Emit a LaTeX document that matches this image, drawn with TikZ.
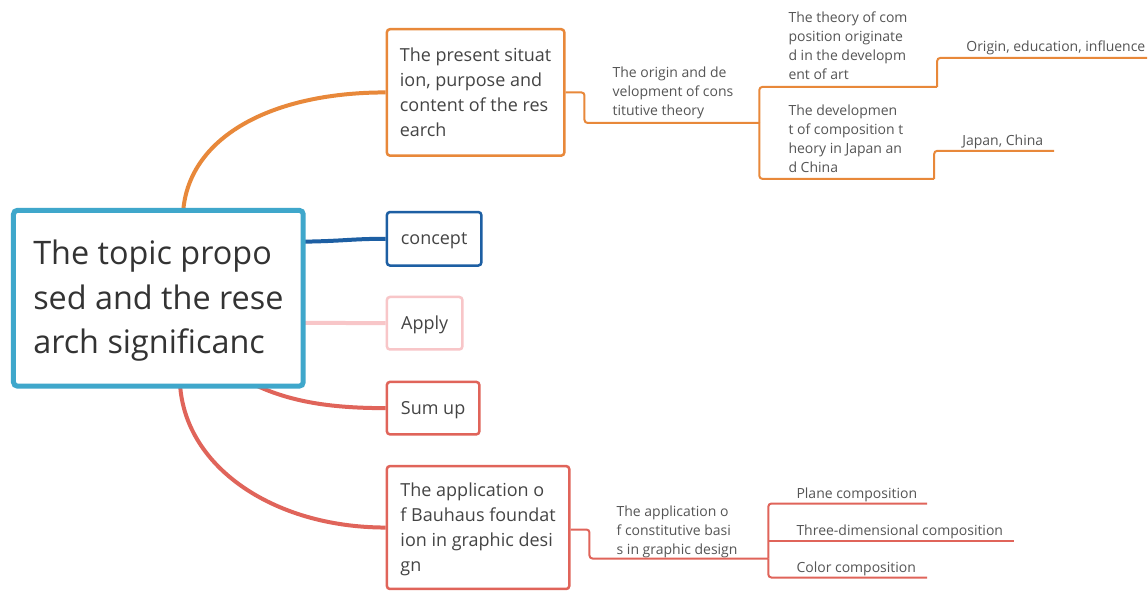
\documentclass[tikz,border=0pt]{standalone}
\usepackage{fontspec}
\setmainfont{Open Sans}
\definecolor{rootblue}{HTML}{3FA7CB}
\definecolor{orng}{HTML}{E8883A}
\definecolor{cblue}{HTML}{1D5FA3}
\definecolor{pink}{HTML}{F8C6C8}
\definecolor{redc}{HTML}{E0645A}
\definecolor{txtdark}{HTML}{333333}
\definecolor{txtmid}{HTML}{444444}
\definecolor{txtsub}{HTML}{555555}
\pgfdeclarelayer{paper}
\pgfdeclarelayer{bg}
\pgfsetlayers{paper,bg,main}
\tikzset{
  rootbox/.style={draw=rootblue, line width=5pt, fill=white, rounded corners=4pt, align=left, inner sep=0pt,
    text=txtdark, font=\fontsize{32.4}{44.5}\selectfont, minimum width=290pt, minimum height=176pt},
  topicbox/.style={draw=#1, line width=2.5pt, fill=white, rounded corners=3pt, align=left, inner sep=0pt,
    text=txtmid, font=\fontsize{18}{25}\selectfont},
  oneline/.style={text height=14pt, text depth=2pt},
  subtext/.style={anchor=west, inner sep=0pt, align=left, text=txtsub, font=\fontsize{14}{19}\selectfont},
  mainlink/.style={draw=#1, line width=4pt},
  sublink/.style={draw=#1, line width=2pt, rounded corners=3pt},
}
\begin{document}
\begin{tikzpicture}[x=1pt,y=-1pt]
\begin{pgfonlayer}{paper}
\useasboundingbox[fill=white] (0,0) rectangle (1148,591);
\end{pgfonlayer}

% ---------- boxes ----------
\node[rootbox] (root) at (158.5,298.5) {\rule{0pt}{29.6pt}The topic propo\\sed and the rese\\arch significanc};
\node[topicbox=orng, minimum width=177.5pt, minimum height=126.5pt] (b1) at (476,92.5)
  {The present situat\\ion, purpose and\\content of the res\\earch};
\node[topicbox=cblue, oneline, minimum width=94.5pt, minimum height=53.5pt] (conc) at (434.5,239) {concept};
\node[topicbox=pink, oneline, minimum width=75.5pt, minimum height=52.5pt] (appl) at (425,323.5) {Apply};
\node[topicbox=redc, oneline, minimum width=92.5pt, minimum height=52.5pt] (sum) at (433.5,408.5) {Sum up};
\node[topicbox=redc, minimum width=182.5pt, minimum height=123pt] (bau) at (478.5,528)
  {\rule{0pt}{17.7pt}The application o\\f Bauhaus foundat\\ion in graphic desi\\gn};

% ---------- main connectors (behind the boxes) ----------
\coordinate (rtop) at (183,220);
\coordinate (rbotA) at (180,380);
\coordinate (rbotS) at (245,380);
\coordinate (rconc) at (295,242);
\coordinate (rapp) at (295,323);
\begin{pgfonlayer}{bg}
\draw[mainlink=orng] (rtop) .. controls (183,140) and (268,92.5) .. (b1.west);
\draw[mainlink=cblue] (rconc) .. controls (345,241.5) and (350,239) .. (conc.west);
\draw[mainlink=pink] (rapp) -- (appl.west);
\draw[mainlink=redc] (rbotS) .. controls (285,402) and (330,408.5) .. (sum.west);
\draw[mainlink=redc] (rbotA) .. controls (182,466) and (273,528) .. (bau.west);
\end{pgfonlayer}

% ---------- upper sub-branches ----------
\node[subtext] (orig) at (613,93) {The origin and de\\velopment of cons\\titutive theory};
\node[subtext] (theo) at (789,46) {The theory of com\\position originate\\d in the developm\\ent of art};
\node[subtext] (devl) at (789,139) {The developmen\\t of composition t\\heory in Japan an\\d China};
\node[subtext] (oedu) at (967,48) {Origin, education, influence};
\node[subtext] (japc) at (963,142) {Japan, China};

\coordinate (origR) at (760,123);
\coordinate (theoR) at (938,87);
\coordinate (devlR) at (935,179);
\coordinate (oeduR) at (1148,58);
\coordinate (japcR) at (1055,151);

\draw[sublink=orng] (b1.east) -- (585,92.5) |- (origR);
\draw[sublink=orng] (origR) |- (theoR);
\draw[sublink=orng] (origR) |- (devlR);
\draw[sublink=orng] (theoR) |- (oeduR);
\draw[sublink=orng] (devlR) |- (japcR);

% ---------- lower sub-branches ----------
\node[subtext] (cons) at (617,532) {The application o\\f constitutive basi\\s in graphic design};
\node[subtext] (plan) at (797,495) {Plane composition};
\node[subtext] (thrd) at (797,532) {Three-dimensional composition};
\node[subtext] (colr) at (797,569) {Color composition};

\coordinate (consR) at (769,559);
\coordinate (planR) at (928,504);
\coordinate (thrdR) at (1015,541);
\coordinate (colrR) at (928,578);

\draw[sublink=redc] ([yshift=-2pt]bau.east) -- (590,530) |- (consR);
\draw[sublink=redc] (consR) |- (planR);
\draw[sublink=redc] (consR) |- (colrR);
\draw[draw=redc, line width=2pt] (769,541) -- (thrdR);
\end{tikzpicture}
\end{document}
